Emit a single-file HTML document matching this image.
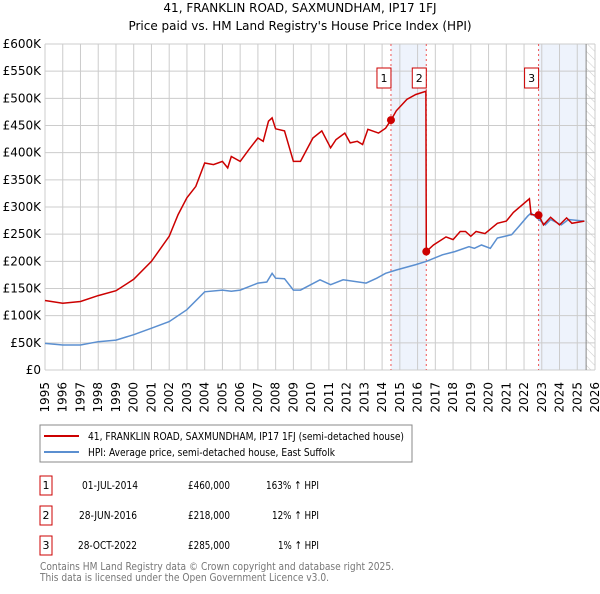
<!DOCTYPE html>
<html><head><meta charset="utf-8"><style>
body{margin:0;background:#fff;font-family:"DejaVu Sans","Liberation Sans",sans-serif;}
svg text{font-family:"DejaVu Sans","Liberation Sans",sans-serif;}
</style></head><body>
<svg id="c" width="600" height="590" xmlns="http://www.w3.org/2000/svg">
<defs><pattern id="hatch" width="6" height="6" patternUnits="userSpaceOnUse" patternTransform="rotate(-45)"><line x1="0" y1="0" x2="0" y2="6" stroke="#ccc" stroke-width="1"/></pattern></defs>
<text x="300" y="12" text-anchor="middle" font-size="12">41, FRANKLIN ROAD, SAXMUNDHAM, IP17 1FJ</text>
<text x="300" y="30" text-anchor="middle" font-size="12">Price paid vs. HM Land Registry's House Price Index (HPI)</text>
<g id="grid"></g><g id="marks"></g><g id="axes"></g>
<rect x="40" y="425" width="372" height="37" fill="#fff" stroke="#888"/>
<line x1="44" y1="436" x2="79" y2="436" stroke="#cc0000" stroke-width="2"/>
<text x="88" y="440" font-size="11" textLength="316" lengthAdjust="spacingAndGlyphs">41, FRANKLIN ROAD, SAXMUNDHAM, IP17 1FJ (semi-detached house)</text>
<line x1="44" y1="452" x2="79" y2="452" stroke="#5b8fd0" stroke-width="2"/>
<text x="88" y="456" font-size="11" textLength="247" lengthAdjust="spacingAndGlyphs">HPI: Average price, semi-detached house, East Suffolk</text>
<g font-size="11">
<rect x="40" y="476" width="12" height="19" fill="#fff" stroke="#cc0000"/><text x="46" y="489" text-anchor="middle">1</text>
<text x="82" y="489" textLength="56" lengthAdjust="spacingAndGlyphs">01-JUL-2014</text><text x="188" y="489" textLength="42" lengthAdjust="spacingAndGlyphs">£460,000</text><text x="266" y="489" textLength="53" lengthAdjust="spacingAndGlyphs">163% ↑ HPI</text>
<rect x="40" y="506" width="12" height="19" fill="#fff" stroke="#cc0000"/><text x="46" y="519" text-anchor="middle">2</text>
<text x="79" y="519" textLength="58" lengthAdjust="spacingAndGlyphs">28-JUN-2016</text><text x="188" y="519" textLength="42" lengthAdjust="spacingAndGlyphs">£218,000</text><text x="272" y="519" textLength="47" lengthAdjust="spacingAndGlyphs">12% ↑ HPI</text>
<rect x="40" y="536" width="12" height="19" fill="#fff" stroke="#cc0000"/><text x="46" y="549" text-anchor="middle">3</text>
<text x="78" y="549" textLength="59" lengthAdjust="spacingAndGlyphs">28-OCT-2022</text><text x="188" y="549" textLength="42" lengthAdjust="spacingAndGlyphs">£285,000</text><text x="278" y="549" textLength="41" lengthAdjust="spacingAndGlyphs">1% ↑ HPI</text>
</g>
<text x="40" y="570" font-size="11" fill="#777" textLength="354" lengthAdjust="spacingAndGlyphs">Contains HM Land Registry data © Crown copyright and database right 2025.</text>
<text x="40" y="581" font-size="11" fill="#777" textLength="289" lengthAdjust="spacingAndGlyphs">This data is licensed under the Open Government Licence v3.0.</text>
</svg>
<script>
const yTicks=[0,50,100,150,200,250,300,350,400,450,500,550,600];
const yTickLabels=["£0","£50K","£100K","£150K","£200K","£250K","£300K","£350K","£400K","£450K","£500K","£550K","£600K"];
const xYears=[1995,1996,1997,1998,1999,2000,2001,2002,2003,2004,2005,2006,2007,2008,2009,2010,2011,2012,2013,2014,2015,2016,2017,2018,2019,2020,2021,2022,2023,2024,2025,2026];
const redYears=[1995,1996,1997,1998,1999,2000,2001,2002,2002.5,2003,2003.5,2004,2004.5,2005,2005.3,2005.5,2006,2006.5,2007,2007.3,2007.6,2007.8,2008,2008.5,2009,2009.4,2010.1,2010.6,2011.1,2011.4,2011.9,2012.2,2012.6,2012.9,2013.2,2013.8,2014.2,2014.5,2014.8,2015.4,2015.9,2016.47,2016.49,2016.9,2017.6,2018,2018.4,2018.7,2019,2019.3,2019.8,2020.5,2021,2021.4,2022.3,2022.4,2022.83,2023.1,2023.5,2024,2024.4,2024.7,2025.4];
const redValues=[128,123,126,137,146,167,200,246,286,317,338,381,378,384,372,393,384,406,427,421,458,464,444,440,384,384,427,440,409,424,436,418,421,415,443,436,445,460,477,498,507,513,218,230,245,240,255,255,246,255,251,270,274,290,315,286,285,267,281,267,280,270,274];
const hpiYears=[1995,1996,1997,1998,1999,2000,2001,2002,2003,2004,2005,2005.5,2006,2007,2007.5,2007.8,2008,2008.5,2009,2009.4,2010.5,2011.1,2011.8,2013.1,2013.7,2014.2,2014.8,2015.9,2016.5,2017.4,2018.1,2018.9,2019.2,2019.6,2020.1,2020.5,2021.3,2021.7,2022.2,2022.4,2023.2,2023.5,2024.1,2024.5,2025.4];
const hpiValues=[49,46,46,52,55,65,77,89,111,144,147,145,147,160,162,178,169,168,147,147,166,157,166,160,169,178,184,194,200,212,218,227,224,230,224,243,249,264,283,289,267,277,267,277,274];
const saleYears=[2014.5,2016.49,2022.82];
const salePrices=[460,218,285];
const saleLabels=["1","2","3"];
const NS="http://www.w3.org/2000/svg";
const X0=45,X1=595,Y0=370,Y1=44;
const xs=y=>X0+(y-1995)/(2026-1995)*(X1-X0);
const ys=v=>Y0-v/600*(Y0-Y1);
function mk(tag,attrs,parent){const e=document.createElementNS(NS,tag);for(const k in attrs)e.setAttribute(k,attrs[k]);parent.appendChild(e);return e;}
const grid=document.getElementById('grid'),marks=document.getElementById('marks'),axes=document.getElementById('axes');
let s=mk('rect',{x:xs(saleYears[0]),y:Y1,width:xs(saleYears[1])-xs(saleYears[0]),height:Y0-Y1,fill:'#eef3fc'},grid);

s=mk('rect',{x:xs(saleYears[2]),y:Y1,width:xs(2025.5)-xs(saleYears[2]),height:Y0-Y1,fill:'#eef3fc'},grid);

s=mk('rect',{x:xs(2025.5),y:Y1,width:X1-xs(2025.5),height:Y0-Y1,fill:'url(#hatch)'},grid);

yTicks.forEach((t,i)=>{
 const l=mk('line',{x1:X0,x2:X1,y1:ys(t),y2:ys(t),stroke:'#ccc','stroke-width':1},grid);
 
 const tx=mk('text',{x:41,y:ys(t)+4,'text-anchor':'end','font-size':12},axes);tx.textContent=yTickLabels[i];
 
});
xYears.forEach(yr=>{
 const l=mk('line',{x1:xs(yr),x2:xs(yr),y1:Y1,y2:Y0,stroke:'#ccc','stroke-width':1},grid);
 
 const tx=mk('text',{x:0,y:0,'text-anchor':'end','font-size':12,transform:`translate(${xs(yr)+4},${382}) rotate(-90)`},axes);tx.textContent=yr;
 
});
const ed=mk('line',{x1:xs(2025.5),x2:xs(2025.5),y1:Y1,y2:Y0,stroke:'#888'},grid);

saleYears.forEach((y,i)=>{
 const l=mk('line',{x1:xs(y),x2:xs(y),y1:Y1,y2:Y0,stroke:'#ee5555','stroke-dasharray':'2,3'},grid);
 
});
function path(xv,yv,color,name){
 const d=xv.map((x,i)=>(i?'L':'M')+xs(x).toFixed(1)+','+ys(yv[i]).toFixed(1)).join('');
 const p=mk('path',{d:d,fill:'none',stroke:color,'stroke-width':1.5},marks);
 
}
path(hpiYears,hpiValues,'#5b8fd0','hpi-line');
path(redYears,redValues,'#cc0000','property-price-line');
saleYears.forEach((y,i)=>{
 const c=mk('circle',{cx:xs(y),cy:ys(salePrices[i]),r:4,fill:'#cc0000'},marks);
 
 const b=mk('rect',{x:xs(y)-14,y:68,width:14,height:20,fill:'#fff',stroke:'#cc0000'},marks);
 
 const t=mk('text',{x:xs(y)-7,y:82,'text-anchor':'middle','font-size':11},marks);t.textContent=saleLabels[i];
 
});
</script>
</body></html>
